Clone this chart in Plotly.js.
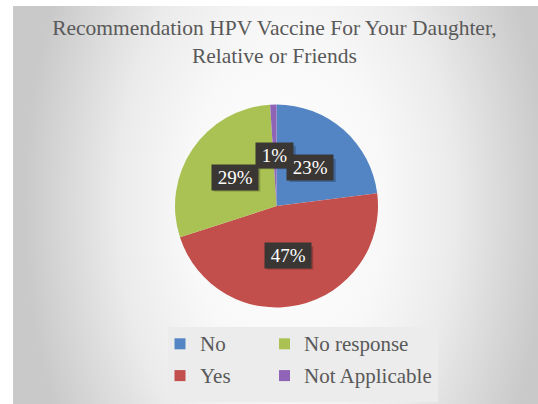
<!DOCTYPE html>
<html>
<head>
<meta charset="utf-8">
<script src="https://cdn.plot.ly/plotly-3.0.1.min.js"></script>
<style>
  html, body { margin: 0; padding: 0; background: #ffffff; }
  #wrap { position: relative; width: 538px; height: 404px; overflow: hidden; }
  #bg { position: absolute; left: 13px; top: 6px; width: 525px; height: 398px;
        background: radial-gradient(ellipse 50% 110% at 52% 50%, #ffffff 0%, #f8f8f8 38%, #ebebeb 64%, #c9c9c9 100%); }
  #chart { position: absolute; left: 0; top: 0; width: 538px; height: 404px; }
</style>
</head>
<body>
<div id="wrap"><div id="bg"></div><div id="chart"></div></div>
<script>
// ---- data ----
const categories = ["No", "Yes", "No response", "Not Applicable"];
const percents = [23, 47, 29, 1];
const sliceColors = ["#5385c4", "#c24f4b", "#a9c253", "#8f64b6"];
const legendOrder = ["No", "No response", "Yes", "Not Applicable"];
const chartTitle = "Recommendation HPV Vaccine For Your Daughter,<br>Relative or Friends";

// ---- layout geometry (pixels) ----
const W = 538, H = 404;
const cxPx = 276.5, cyPx = 206, rPx = 101.5;
const serif = "Liberation Serif, Times New Roman, serif";
const px2x = p => p / W;
const px2y = p => 1 - p / H;

const pie = {
  type: "pie",
  labels: categories,
  values: percents,
  sort: false,
  direction: "clockwise",
  rotation: 0,
  marker: { colors: sliceColors, line: { width: 0 } },
  textinfo: "none",
  hoverinfo: "label+percent",
  showlegend: false,
  domain: { x: [px2x(cxPx - rPx), px2x(cxPx + rPx)], y: [px2y(cyPx + rPx), px2y(cyPx - rPx)] }
};

const annotations = [];
const shapes = [];

// data labels placed at mid-angle, half radius, dark boxes with a soft shadow
const total = percents.reduce((a, b) => a + b, 0);
const lblSize = 19;
let cum = 0;
percents.forEach((v, i) => {
  const th = 2 * Math.PI * (cum + v / 2) / total;
  cum += v;
  const pxX = cxPx + 0.5 * rPx * Math.sin(th);
  const pxY = cyPx - 0.5 * rPx * Math.cos(th);
  const txt = Math.round(100 * v / total) + "%";
  const digits = txt.length - 1;
  const bw = digits * 0.5 * lblSize + 0.833 * lblSize + 0.4 * lblSize + 4;
  const bh = 23;
  shapes.push({ type: "rect", xref: "paper", yref: "paper",
    x0: px2x(pxX - bw / 2 + 2.5), x1: px2x(pxX + bw / 2 + 2.5),
    y0: px2y(pxY + bh / 2 + 2.5), y1: px2y(pxY - bh / 2 + 2.5),
    fillcolor: "rgba(0,0,0,0.22)", line: { width: 0 } });
  annotations.push({ x: px2x(pxX), y: px2y(pxY), xref: "paper", yref: "paper",
    xanchor: "center", yanchor: "middle",
    text: "\u2009" + txt + "\u2009", showarrow: false,
    bgcolor: "#3a3634", borderpad: 2,
    font: { family: serif, size: lblSize, color: "#ffffff" } });
});

// legend (two columns, column-major like the original)
shapes.push({ type: "rect", xref: "paper", yref: "paper",
  x0: px2x(168), x1: px2x(438), y0: px2y(402), y1: px2y(327),
  fillcolor: "#ececec", line: { width: 0 }, layer: "below" });
const colX = [174.5, 279], textX = [198, 302], rowY = [343.8, 375.6];
legendOrder.forEach((name, k) => {
  const col = k % 2, row = Math.floor(k / 2);
  const color = sliceColors[categories.indexOf(name)];
  shapes.push({ type: "rect", xref: "paper", yref: "paper",
    x0: px2x(colX[col]), x1: px2x(colX[col] + 11),
    y0: px2y(rowY[row] + 5.5), y1: px2y(rowY[row] - 5.5),
    fillcolor: color, line: { width: 0 } });
  annotations.push({ x: px2x(textX[col]), y: px2y(rowY[row]), xref: "paper", yref: "paper",
    xanchor: "left", yanchor: "middle", text: name, showarrow: false,
    font: { family: serif, size: 21, color: "#595959" } });
});

const layout = {
  width: W, height: H,
  margin: { l: 0, r: 0, t: 0, b: 0 },
  paper_bgcolor: "rgba(0,0,0,0)",
  plot_bgcolor: "rgba(0,0,0,0)",
  title: { text: chartTitle, x: 0.51, xanchor: "center", xref: "container",
           y: px2y(35), yanchor: "top", yref: "container",
           font: { family: serif, size: 21.5, color: "#595959" } },
  showlegend: false,
  shapes, annotations
};

Plotly.newPlot("chart", [pie], layout, { displayModeBar: false, staticPlot: true });
</script>
</body>
</html>
